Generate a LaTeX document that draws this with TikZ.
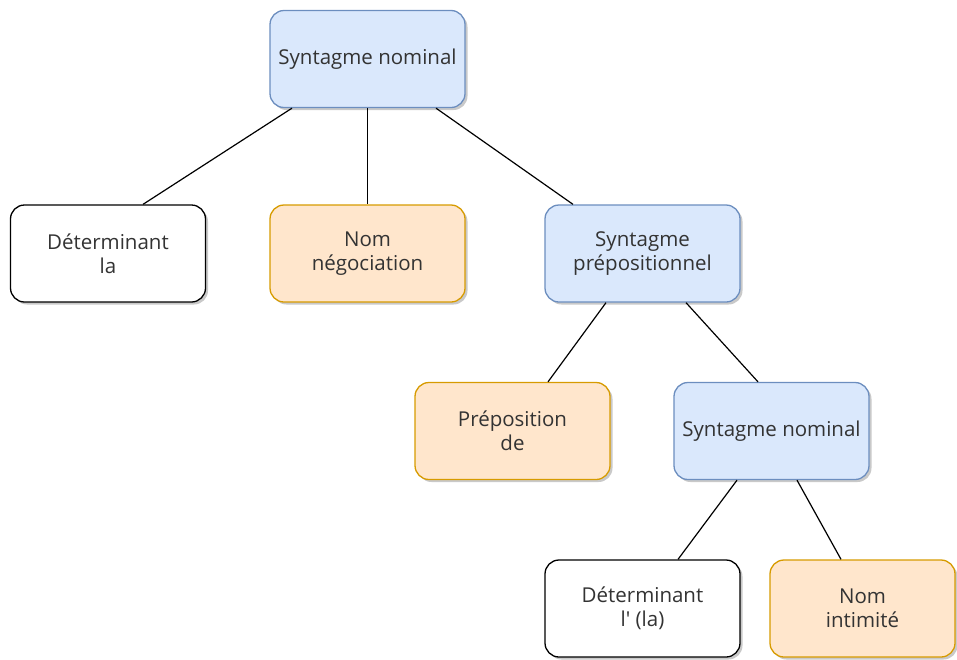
\documentclass[tikz,border=0pt]{standalone}
\usepackage{fontspec}
\setmainfont{Open Sans}
\usetikzlibrary{calc,shadows}

\definecolor{phraseFill}{HTML}{DAE8FC}
\definecolor{phraseLine}{HTML}{6C8EBF}
\definecolor{wordFill}{HTML}{FFE6CC}
\definecolor{wordLine}{HTML}{D79B00}
\definecolor{labelGray}{HTML}{333333}

\tikzset{
  box/.style={draw, rounded corners=14pt, line width=1.3pt,
    minimum width=195pt, minimum height=97pt, align=center,
    text=labelGray, font=\fontsize{20.5}{24}\selectfont,
    drop shadow={shadow xshift=2.5pt, shadow yshift=-2.5pt, opacity=0.3, fill=black!70}},
  phrase/.style={box, fill=phraseFill, draw=phraseLine},
  word/.style={box, fill=wordFill, draw=wordLine},
  det/.style={box, fill=white, draw=black},
  branch/.style={line width=1.2pt, black},
}

\begin{document}
\begin{tikzpicture}[x=1pt, y=-1pt]
\useasboundingbox (0,0) rectangle (957,659);

\def\ytop{59};
\def\ymid{253.5};
\def\ylow{431};
\def\ybot{608.5};

% levels of the tree
\node[phrase] (sn) at (367.5, \ytop) {Syntagme nominal};

\node[det] (detla) at (108, \ymid) {Déterminant\\la};
\node[word] (nom) at (367.5, \ymid) {Nom\\négociation};
\node[phrase] (sp) at (642.5, \ymid) {Syntagme\\prépositionnel};

\node[word] (prep) at (512.5, \ylow) {Préposition\\de};
\node[phrase] (snint) at (771.5, \ylow) {Syntagme nominal};

\node[det] (detl) at (642.5, \ybot) {Déterminant\\l\textquotesingle{} (la)};
\node[word, minimum width=185pt] (nomint) at (862.5, \ybot) {Nom\\intimité};

% branches
\draw[branch] ($(sn.south)+(-75.5,0)$) -- ($(detla.north)+(35,0)$);
\draw[branch] (sn.south) -- (nom.north);
\draw[branch] ($(sn.south)+(68.5,0)$) -- ($(sp.north)+(-69.5,0)$);

\draw[branch] ($(sp.south)+(-36.5,0)$) -- ($(prep.north)+(35.5,0)$);
\draw[branch] ($(sp.south)+(43.5,0)$) -- ($(snint.north)+(-13.5,0)$);

\draw[branch] ($(snint.south)+(-34.5,0)$) -- ($(detl.north)+(35.5,0)$);
\draw[branch] ($(snint.south)+(25.5,0)$) -- ($(nomint.north)+(-21.5,0)$);

\end{tikzpicture}
\end{document}
